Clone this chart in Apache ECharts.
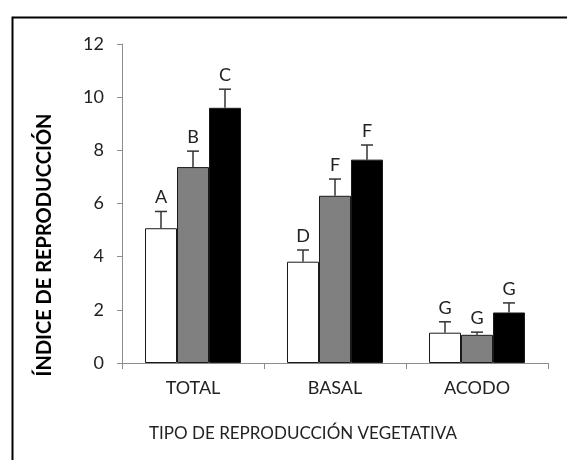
<!DOCTYPE html>
<html>
<head>
<meta charset="utf-8">
<script src="https://cdn.jsdelivr.net/npm/echarts@6/dist/echarts.min.js"></script>
<style>
  html, body { margin: 0; padding: 0; background: #fff; }
  #chart { width: 567px; height: 460px; }
</style>
</head>
<body>
<div id="chart"></div>
<script>
// Reproduction index by type of vegetative reproduction (three treatments)
const categories = ['TOTAL', 'BASAL', 'ACODO'];
const yTicks = [0, 2, 4, 6, 8, 10, 12];

const whiteMeans = [5.07, 3.81, 1.14];
const whiteErrors = [0.63, 0.44, 0.41];
const whiteLetters = ['A', 'D', 'G'];

const grayMeans = [7.37, 6.29, 1.06];
const grayErrors = [0.60, 0.63, 0.10];
const grayLetters = ['B', 'F', 'G'];

const blackMeans = [9.60, 7.65, 1.90];
const blackErrors = [0.70, 0.55, 0.36];
const blackLetters = ['C', 'F', 'G'];

const FONT = 'Lato';
const BAR_W = 32;

const groups = [
  { means: whiteMeans, errors: whiteErrors, letters: whiteLetters, color: '#ffffff', offset: -1 },
  { means: grayMeans, errors: grayErrors, letters: grayLetters, color: '#808080', offset: 0 },
  { means: blackMeans, errors: blackErrors, letters: blackLetters, color: '#000000', offset: 1 }
];

const series = [];
groups.forEach(function (g) {
  series.push({
    type: 'bar',
    data: g.means,
    barWidth: BAR_W,
    barGap: '0%',
    itemStyle: { color: g.color, borderColor: '#1a1a1a', borderWidth: 1 },
    silent: true
  });
});
groups.forEach(function (g) {
  series.push({
    type: 'custom',
    data: g.means.map(function (m, i) { return [i, m, g.errors[i], g.letters[i]]; }),
    encode: { x: 0, y: 1 },
    z: 5,
    renderItem: function (params, api) {
      const i = api.value(0);
      const base = api.coord([i, api.value(1)]);
      const top = api.coord([i, api.value(1) + api.value(2)]);
      const x = base[0] + g.offset * BAR_W;
      const half = 6;
      const style = { stroke: '#333333', lineWidth: 1.5 };
      return {
        type: 'group',
        children: [
          { type: 'line', shape: { x1: x, y1: base[1], x2: x, y2: top[1] }, style: style },
          { type: 'line', shape: { x1: x - half, y1: top[1], x2: x + half, y2: top[1] }, style: style },
          { type: 'text', style: {
              x: x, y: top[1] - 5, text: g.letters[i],
              textAlign: 'center', textVerticalAlign: 'bottom',
              fontFamily: FONT, fontSize: 18, fill: '#222222'
          } }
        ]
      };
    }
  });
});

const chart = echarts.init(document.getElementById('chart'), null, { renderer: 'canvas' });
chart.setOption({
  animation: false,
  backgroundColor: '#ffffff',
  grid: { left: 122, right: 19, top: 44, bottom: 97, containLabel: false },
  xAxis: {
    type: 'category',
    data: categories,
    axisLine: { lineStyle: { color: '#8c8c8c', width: 1 } },
    axisTick: { show: true, length: 6, lineStyle: { color: '#8c8c8c' } },
    axisLabel: { color: '#222222', fontFamily: FONT, fontSize: 18, margin: 16 }
  },
  yAxis: {
    type: 'value',
    min: yTicks[0],
    max: yTicks[yTicks.length - 1],
    interval: 2,
    splitLine: { show: false },
    axisLine: { show: true, lineStyle: { color: '#8c8c8c', width: 1 } },
    axisTick: { show: true, length: 5, lineStyle: { color: '#8c8c8c' } },
    axisLabel: { color: '#222222', fontFamily: FONT, fontSize: 18, margin: 18 }
  },
  graphic: [
    { type: 'rect', left: 10, top: 15, shape: { width: 620, height: 520 },
      style: { fill: 'none', stroke: '#000000', lineWidth: 2 }, silent: true },
    { type: 'text', x: 45, y: 245, rotation: Math.PI / 2,
      style: { text: 'ÍNDICE DE REPRODUCCIÓN', textAlign: 'center', textVerticalAlign: 'middle',
               fontFamily: FONT, fontSize: 20, fontWeight: 'bold', fill: '#000000' } },
    { type: 'text', x: 303, y: 434,
      style: { text: 'TIPO DE REPRODUCCIÓN VEGETATIVA', textAlign: 'center', textVerticalAlign: 'middle',
               fontFamily: FONT, fontSize: 17, fill: '#222222' } }
  ],
  series: series
});
</script>
</body>
</html>
